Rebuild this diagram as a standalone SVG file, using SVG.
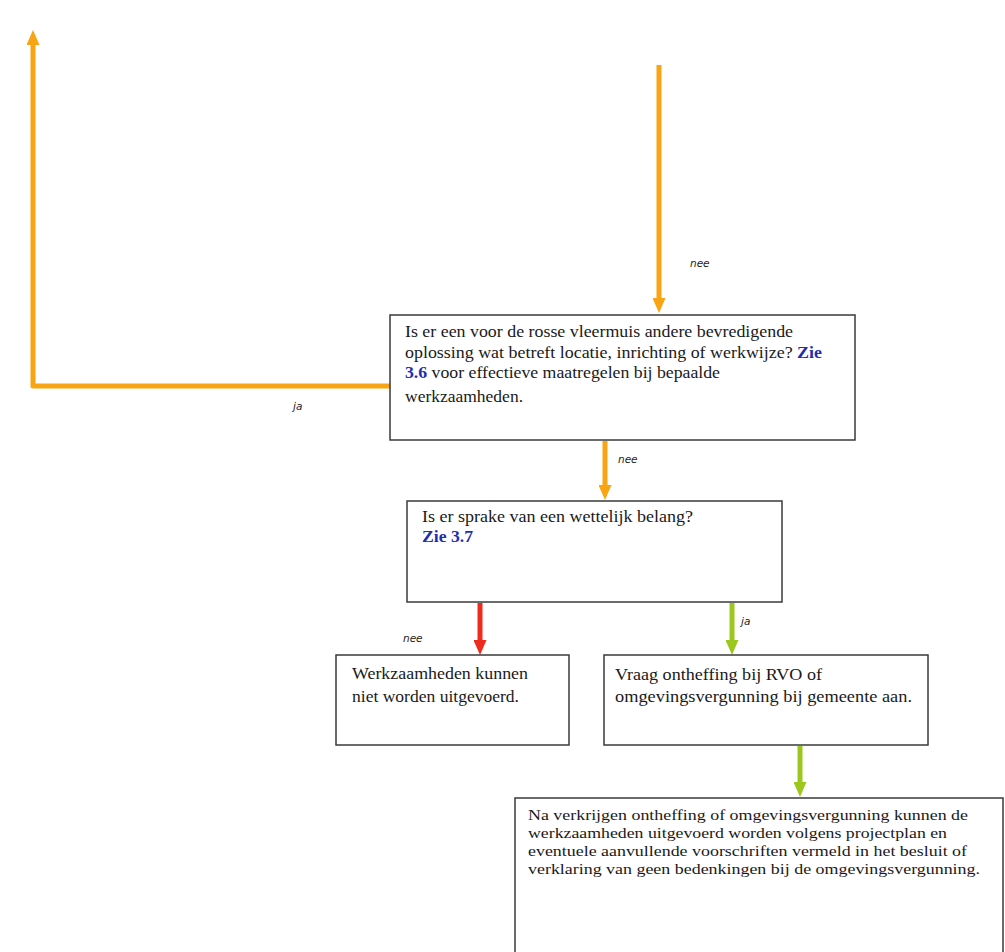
<svg xmlns="http://www.w3.org/2000/svg" width="1005" height="952" viewBox="0 0 1005 952">
<style>
.box{fill:#fff;stroke:#3a3a3a;stroke-width:1.5}
.t{font-family:"Liberation Serif","Times New Roman",serif;font-size:16px;fill:#1a1a1a}
.s{font-size:15.5px}
.b{fill:#1f2fb0;font-weight:bold}
.lbl{font-family:"DejaVu Sans",sans-serif;font-style:italic;font-size:10.5px;fill:#222}
.c{fill:none;stroke-width:5}
</style>
<defs>
<marker id="mo" viewBox="0 0 15 13" refX="6" refY="6.5" markerWidth="15" markerHeight="13" markerUnits="userSpaceOnUse" orient="auto"><path d="M0,0 L15,6.5 L0,13 z" fill="#F9A412"/></marker>
<marker id="mr" viewBox="0 0 15 13" refX="6" refY="6.5" markerWidth="15" markerHeight="13" markerUnits="userSpaceOnUse" orient="auto"><path d="M0,0 L15,6.5 L0,13 z" fill="#EE2B1C"/></marker>
<marker id="mg" viewBox="0 0 15 13" refX="6" refY="6.5" markerWidth="15" markerHeight="13" markerUnits="userSpaceOnUse" orient="auto"><path d="M0,0 L15,6.5 L0,13 z" fill="#9CC81E"/></marker>
</defs>
<rect width="1005" height="952" fill="#fff"/>
<g id="connectors">
<path class="c" d="M390,386 H33 V39" stroke="#F9A412" stroke-linejoin="round" marker-end="url(#mo)"/>
<path class="c" d="M659,65 V304" stroke="#F9A412" marker-end="url(#mo)"/>
<path class="c" d="M605,441 V491" stroke="#F9A412" marker-end="url(#mo)"/>
<path class="c" d="M480,603 V646" stroke="#EE2B1C" marker-end="url(#mr)"/>
<path class="c" d="M732,603 V646" stroke="#9CC81E" marker-end="url(#mg)"/>
<path class="c" d="M800,746 V788" stroke="#9CC81E" marker-end="url(#mg)"/>
<text class="lbl" x="690" y="267">nee</text>
<text class="lbl" x="293" y="410">ja</text>
<text class="lbl" x="618" y="463">nee</text>
<text class="lbl" x="403" y="642">nee</text>
<text class="lbl" x="741" y="625">ja</text>
</g>
<g id="node1">
<rect class="box" x="390" y="315" width="465" height="125"/>
<text class="t" x="405" y="337" textLength="388" lengthAdjust="spacingAndGlyphs">Is er een voor de rosse vleermuis andere bevredigende</text>
<text class="t" x="405" y="358" textLength="417" lengthAdjust="spacingAndGlyphs">oplossing wat betreft locatie, inrichting of werkwijze? <tspan class="b">Zie</tspan></text>
<text class="t" x="405" y="378" textLength="315" lengthAdjust="spacingAndGlyphs"><tspan class="b">3.6</tspan> voor effectieve maatregelen bij bepaalde</text>
<text class="t" x="405" y="402" textLength="118" lengthAdjust="spacingAndGlyphs">werkzaamheden.</text>
</g>
<g id="node2">
<rect class="box" x="407" y="501" width="375" height="101"/>
<text class="t" x="422" y="522" textLength="271" lengthAdjust="spacingAndGlyphs">Is er sprake van een wettelijk belang?</text>
<text class="t b" x="422" y="542" textLength="51" lengthAdjust="spacingAndGlyphs">Zie 3.7</text>
</g>
<g id="node3">
<rect class="box" x="336" y="655" width="233" height="90"/>
<text class="t" x="352" y="679" textLength="176" lengthAdjust="spacingAndGlyphs">Werkzaamheden kunnen</text>
<text class="t" x="352" y="702" textLength="167" lengthAdjust="spacingAndGlyphs">niet worden uitgevoerd.</text>
</g>
<g id="node4">
<rect class="box" x="604" y="655" width="324" height="90"/>
<text class="t" x="615" y="680" textLength="207" lengthAdjust="spacingAndGlyphs">Vraag ontheffing bij RVO of</text>
<text class="t" x="615" y="702" textLength="297" lengthAdjust="spacingAndGlyphs">omgevingsvergunning bij gemeente aan.</text>
</g>
<g id="node5">
<rect class="box" x="515" y="798" width="488" height="170"/>
<text class="t s" x="528" y="820" textLength="440" lengthAdjust="spacingAndGlyphs">Na verkrijgen ontheffing of omgevingsvergunning kunnen de</text>
<text class="t s" x="528" y="838" textLength="419" lengthAdjust="spacingAndGlyphs">werkzaamheden uitgevoerd worden volgens projectplan en</text>
<text class="t s" x="528" y="856" textLength="439" lengthAdjust="spacingAndGlyphs">eventuele aanvullende voorschriften vermeld in het besluit of</text>
<text class="t s" x="528" y="874" textLength="452" lengthAdjust="spacingAndGlyphs">verklaring van geen bedenkingen bij de omgevingsvergunning.</text>
</g>
</svg>
